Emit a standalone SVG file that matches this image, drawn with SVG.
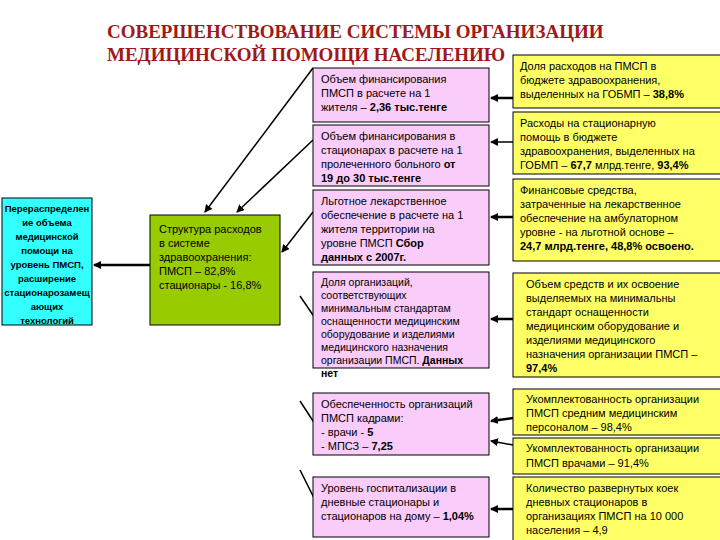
<svg xmlns="http://www.w3.org/2000/svg" width="720" height="540" viewBox="0 0 720 540">
<style>
.t{font-family:"Liberation Serif","Times New Roman",serif;font-weight:bold;font-size:19px;fill:#A01818}
.s{font-family:"Liberation Sans",Arial,sans-serif;font-size:11px;fill:#000}
.b{font-weight:bold}
.pk{fill:#F9CCF9;stroke:#000;stroke-width:1}
.yl{fill:#FFFF66;stroke:#000;stroke-width:1}
.ln{stroke:#000;stroke-width:1.5;fill:none}
.ar{stroke:#000;stroke-width:2.5;fill:none}
</style>
<defs>
<marker id="ah" markerWidth="8" markerHeight="8" refX="7" refY="4" orient="auto" markerUnits="userSpaceOnUse"><path d="M0,0 L8,4 L0,8 z" fill="#000"/></marker>
</defs>
<rect width="720" height="540" fill="#fff"/>
<text class="t" x="107" y="38">СОВЕРШЕНСТВОВАНИЕ СИСТЕМЫ ОРГАНИЗАЦИИ</text>
<text class="t" x="107" y="61">МЕДИЦИНСКОЙ ПОМОЩИ НАСЕЛЕНИЮ</text>
<g id="connectors">
<line class="ln" x1="313" y1="68" x2="205" y2="212" marker-end="url(#ah)"/>
<line class="ln" x1="313" y1="140" x2="237" y2="212" marker-end="url(#ah)"/>
<line class="ln" x1="313" y1="212" x2="282" y2="252" marker-end="url(#ah)"/>
<line class="ln" x1="300" y1="296" x2="315" y2="318"/>
<line class="ln" x1="300" y1="401" x2="315" y2="424"/>
<line class="ln" x1="300" y1="470" x2="315" y2="500"/>
<line class="ar" x1="150" y1="265" x2="94" y2="265" marker-end="url(#ah)"/>
<line class="ar" x1="513" y1="98" x2="491" y2="98" marker-end="url(#ah)"/>
<line class="ln" x1="513" y1="142" x2="491" y2="142" marker-end="url(#ah)"/>
<line class="ar" x1="513" y1="217" x2="491" y2="217" marker-end="url(#ah)"/>
<line class="ar" x1="513" y1="319" x2="491" y2="319" marker-end="url(#ah)"/>
<line class="ar" x1="513" y1="418" x2="491" y2="421" marker-end="url(#ah)"/>
<line class="ln" x1="513" y1="445" x2="491" y2="441" marker-end="url(#ah)"/>
<line class="ar" x1="513" y1="509" x2="491" y2="509" marker-end="url(#ah)"/>
</g>
<g id="n-left">
<rect x="2" y="198" width="90" height="127" fill="#33FFFF" stroke="#000"/>
<text class="s b" text-anchor="middle" style="font-size:9.5px"><tspan x="47" y="212">Перераспределен</tspan><tspan x="47" y="226">ие объема</tspan><tspan x="47" y="240">медицинской</tspan><tspan x="47" y="254">помощи на</tspan><tspan x="47" y="268">уровень ПМСП,</tspan><tspan x="47" y="282">расширение</tspan><tspan x="47" y="296">стационарозамещ</tspan><tspan x="47" y="310">ающих</tspan><tspan x="47" y="324">технологий</tspan></text>
</g>
<g id="n-green">
<rect x="150" y="215" width="130" height="110" fill="#99CC00" stroke="#000"/>
<text class="s"><tspan x="159" y="233">Структура расходов</tspan><tspan x="159" y="247">в системе</tspan><tspan x="159" y="261">здравоохранения:</tspan><tspan x="159" y="275">ПМСП – 82,8%</tspan><tspan x="159" y="289">стационары - 16,8%</tspan></text>
</g>
<g id="p1"><rect class="pk" x="313" y="68" width="176" height="54"/>
<text class="s"><tspan x="321" y="83">Объем финансирования</tspan><tspan x="321" y="97">ПМСП в расчете на 1</tspan><tspan x="321" y="111">жителя – <tspan class="b">2,36 тыс.тенге</tspan></tspan></text></g>
<g id="p2"><rect class="pk" x="313" y="125" width="176" height="61"/>
<text class="s"><tspan x="321" y="140">Объем финансирования в</tspan><tspan x="321" y="154">стационарах в расчете на 1</tspan><tspan x="321" y="168">пролеченного больного <tspan class="b">от</tspan></tspan><tspan x="321" y="182" class="b">19 до 30 тыс.тенге</tspan></text></g>
<g id="p3"><rect class="pk" x="313" y="190" width="176" height="75"/>
<text class="s"><tspan x="321" y="205">Льготное лекарственное</tspan><tspan x="321" y="219">обеспечение в расчете на 1</tspan><tspan x="321" y="233">жителя территории  на</tspan><tspan x="321" y="247">уровне ПМСП <tspan class="b">Сбор</tspan></tspan><tspan x="321" y="261" class="b">данных с 2007г.</tspan></text></g>
<g id="p4"><rect class="pk" x="313" y="272" width="176" height="96"/>
<text class="s" style="font-size:10.5px"><tspan x="321" y="286">Доля организаций,</tspan><tspan x="321" y="299">соответствующих</tspan><tspan x="321" y="312">минимальным стандартам</tspan><tspan x="321" y="325">оснащенности  медицинским</tspan><tspan x="321" y="338">оборудование и изделиями</tspan><tspan x="321" y="351">медицинского назначения</tspan><tspan x="321" y="364">организации ПМСП. <tspan class="b">Данных</tspan></tspan><tspan x="321" y="377" class="b">нет</tspan></text></g>
<g id="p5"><rect class="pk" x="313" y="393" width="176" height="62"/>
<text class="s"><tspan x="321" y="408">Обеспеченность организаций</tspan><tspan x="321" y="422">ПМСП кадрами:</tspan><tspan x="321" y="436">- врачи - <tspan class="b">5</tspan></tspan><tspan x="321" y="450">- МПСЗ – <tspan class="b">7,25</tspan></tspan></text></g>
<g id="p6"><rect class="pk" x="313" y="477" width="176" height="60"/>
<text class="s"><tspan x="321" y="492">Уровень госпитализации в</tspan><tspan x="321" y="506">дневные стационары и</tspan><tspan x="321" y="520">стационаров на дому – <tspan class="b">1,04%</tspan></tspan></text></g>
<g id="y1"><rect class="yl" x="513" y="55" width="210" height="53"/>
<text class="s"><tspan x="520" y="70">Доля расходов на ПМСП в</tspan><tspan x="520" y="84">бюджете здравоохранения,</tspan><tspan x="520" y="98">выделенных на ГОБМП – <tspan class="b">38,8%</tspan></tspan></text></g>
<g id="y2"><rect class="yl" x="513" y="112" width="210" height="62"/>
<text class="s"><tspan x="520" y="127">Расходы на стационарную</tspan><tspan x="520" y="141">помощь в бюджете</tspan><tspan x="520" y="155">здравоохранения, выделенных на</tspan><tspan x="520" y="169">ГОБМП – <tspan class="b">67,7</tspan> млрд.тенге, <tspan class="b">93,4%</tspan></tspan></text></g>
<g id="y3"><rect class="yl" x="513" y="179" width="210" height="82"/>
<text class="s"><tspan x="520" y="194">Финансовые средства,</tspan><tspan x="520" y="208">затраченные на лекарственное</tspan><tspan x="520" y="222">обеспечение на амбулаторном</tspan><tspan x="520" y="236">уровне - на льготной основе –</tspan><tspan x="520" y="250" class="b">24,7 млрд.тенге, 48,8% освоено.</tspan></text></g>
<g id="y4"><rect class="yl" x="513" y="273" width="210" height="104"/>
<text class="s"><tspan x="526" y="288">Объем средств и их освоение</tspan><tspan x="526" y="302">выделяемых на минимальны</tspan><tspan x="526" y="316">стандарт оснащенности</tspan><tspan x="526" y="330">медицинским оборудование и</tspan><tspan x="526" y="344">изделиями медицинского</tspan><tspan x="526" y="358">назначения  организации ПМСП –</tspan><tspan x="526" y="372" class="b">97,4%</tspan></text></g>
<g id="y5"><rect class="yl" x="513" y="389" width="210" height="46"/>
<text class="s"><tspan x="526" y="403">Укомплектованность организации</tspan><tspan x="526" y="417">ПМСП средним медицинским</tspan><tspan x="526" y="431">персоналом – 98,4%</tspan></text></g>
<g id="y6"><rect class="yl" x="513" y="438" width="210" height="36"/>
<text class="s"><tspan x="526" y="452">Укомплектованность организации</tspan><tspan x="526" y="467">ПМСП врачами – 91,4%</tspan></text></g>
<g id="y7"><rect class="yl" x="513" y="477" width="210" height="66"/>
<text class="s"><tspan x="526" y="492">Количество развернутых коек</tspan><tspan x="526" y="506">дневных стационаров в</tspan><tspan x="526" y="520">организациях ПМСП на 10 000</tspan><tspan x="526" y="534">населения – 4,9</tspan></text></g>
</svg>
